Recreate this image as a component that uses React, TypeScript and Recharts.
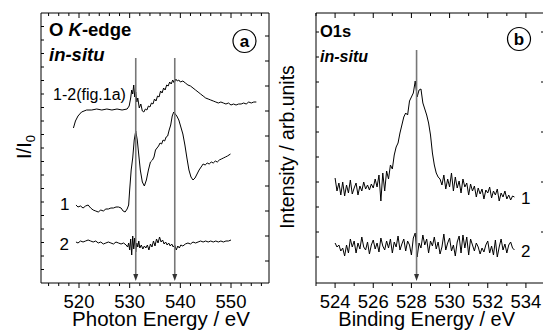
import React from 'react';
import { LineChart, Line, XAxis, YAxis, ReferenceLine, ReferenceDot } from 'recharts';

const FONT = '"Liberation Sans", Arial, Helvetica, sans-serif';

// ---------- Panel a: O K-edge (photon energy eV, intensity arb.) ----------
const okEdgeDiff: [number, number][] = [
  [518.9, 155], [519.3, 162], [519.8, 167], [520.5, 171], [521.5, 173], [522.5, 173], [523.5, 174], [524.5, 173],
  [525.5, 174], [526.5, 173], [527.5, 174], [528.5, 173], [529.5, 174], [529.9, 177], [530.2, 185], [530.4, 193],
  [530.6, 189], [530.8, 198], [531.0, 186], [531.2, 191], [531.4, 181], [531.6, 185], [531.9, 175], [532.2, 179],
  [532.5, 172], [532.8, 171], [533.1, 174], [533.4, 173], [533.7, 177], [534.0, 176], [534.3, 180], [534.6, 179],
  [534.9, 184], [535.2, 182], [535.5, 187], [535.8, 186], [536.1, 192], [536.4, 190], [536.7, 195], [537.0, 193],
  [537.3, 198], [537.6, 197], [537.9, 201], [538.2, 199], [538.5, 203], [538.8, 200], [539.1, 204], [539.4, 202],
  [539.7, 203], [540.0, 201], [540.5, 202], [541.0, 200], [541.5, 198], [542.0, 197], [542.5, 195], [543.0, 193],
  [543.5, 191], [544.0, 189], [544.5, 187], [545.0, 185], [545.5, 184], [546.0, 183], [546.5, 182], [547.0, 181],
  [547.5, 180], [548.0, 181], [548.5, 180], [549.0, 179], [549.5, 180], [550.0, 178], [550.5, 179], [551.0, 178],
  [551.5, 179], [552.0, 179], [552.5, 180], [553.0, 179], [553.5, 181], [554.0, 180], [554.5, 181], [555.0, 181],
];

const okEdge1: [number, number][] = [
  [519.4, 78], [519.8, 76], [520.3, 77], [520.8, 75], [521.3, 77], [521.8, 78], [522.3, 75], [522.8, 73],
  [523.3, 72], [523.8, 71], [524.3, 73], [524.8, 72], [525.3, 74], [525.8, 74], [526.3, 75], [526.8, 75],
  [527.3, 76], [527.8, 76], [528.3, 75], [528.7, 72], [529.1, 71], [529.5, 74], [529.8, 78], [530.0, 93],
  [530.3, 113], [530.6, 125], [530.9, 143], [531.2, 152], [531.5, 143], [531.8, 128], [532.1, 113], [532.5, 101],
  [532.9, 97], [533.3, 103], [533.7, 113], [534.1, 121], [534.5, 123], [534.8, 126], [535.1, 133], [535.4, 135],
  [535.7, 137], [536.0, 140], [536.3, 139], [536.6, 143], [536.9, 142], [537.2, 146], [537.5, 147], [537.8, 153],
  [538.1, 158], [538.4, 167], [538.7, 171], [539.0, 169], [539.3, 167], [539.7, 163], [540.1, 156], [540.5, 149],
  [540.9, 138], [541.3, 125], [541.7, 113], [542.1, 106], [542.5, 103], [542.9, 105], [543.3, 109], [543.7, 113],
  [544.1, 116], [544.5, 119], [544.9, 118], [545.3, 120], [545.7, 119], [546.1, 121], [546.5, 120], [546.9, 122],
  [547.3, 121], [547.7, 123], [548.1, 124], [548.5, 125], [548.9, 126], [549.3, 127], [549.9, 129],
];

const okEdge2: [number, number][] = [
  [519.4, 41], [519.8, 40], [520.3, 42], [520.8, 41], [521.3, 42], [521.8, 43], [522.3, 42], [522.8, 41],
  [523.3, 42], [523.8, 40], [524.3, 41], [524.8, 39], [525.3, 40], [525.8, 41], [526.3, 40], [526.8, 39],
  [527.3, 41], [527.8, 40], [528.3, 39], [528.8, 40], [529.3, 38], [529.6, 36], [529.8, 40], [530.0, 33],
  [530.2, 44], [530.4, 28], [530.6, 47], [530.8, 34], [531.0, 45], [531.2, 31], [531.4, 40], [531.6, 36],
  [531.8, 42], [532.0, 35], [532.3, 38], [532.6, 34], [532.9, 37], [533.2, 35], [533.5, 38], [533.8, 33],
  [534.1, 39], [534.4, 36], [534.7, 42], [535.0, 37], [535.3, 44], [535.6, 40], [535.9, 46], [536.2, 41],
  [536.5, 43], [536.8, 39], [537.1, 41], [537.4, 38], [537.7, 40], [538.0, 37], [538.3, 39], [538.6, 36],
  [538.9, 38], [539.2, 33], [539.5, 37], [539.8, 35], [540.1, 38], [540.5, 37], [541.0, 39], [541.5, 40],
  [542.0, 39], [542.5, 41], [543.0, 40], [543.5, 41], [544.0, 42], [544.5, 41], [545.0, 42], [545.5, 41],
  [546.0, 42], [546.5, 41], [547.0, 42], [547.5, 41], [548.0, 42], [548.5, 41], [549.0, 42], [549.5, 42], [550.0, 43],
];

const photonTicks = [514, 516, 518, 520, 522, 524, 526, 528, 530, 532, 534, 536, 538, 540, 542, 544, 546, 548, 550, 552, 554, 556];
const okLeftTicks = [13.5, 27, 40.5, 54, 67.5, 81, 94.5, 108, 121.5, 135, 148.5, 162, 175.5, 189, 202.5, 216, 229.5, 243, 256.5];
const okRightTicks = [22, 47, 72, 97, 122, 147, 172, 197, 222, 247];
const okArrows = [531.2, 538.9];

// ---------- Panel b: O1s XPS (binding energy eV) ----------
const o1s1: [number, number][] = [
  [524.0, 105], [524.1, 92], [524.2, 100], [524.3, 88], [524.4, 101], [524.5, 87], [524.6, 98], [524.7, 90], [524.8, 103], [524.9, 89],
  [525.0, 95], [525.1, 100], [525.2, 88], [525.3, 97], [525.4, 92], [525.5, 101], [525.6, 94], [525.7, 98], [525.8, 93], [525.9, 99],
  [526.0, 95], [526.1, 104], [526.2, 96], [526.3, 108], [526.4, 82], [526.5, 110], [526.6, 92], [526.7, 112], [526.8, 104], [526.9, 118],
  [527.0, 114], [527.1, 128], [527.2, 136], [527.3, 140], [527.4, 150], [527.5, 158], [527.6, 166], [527.7, 170], [527.8, 168], [527.9, 182],
  [528.0, 186], [528.1, 190], [528.2, 202], [528.3, 186], [528.4, 193], [528.5, 194], [528.6, 180], [528.7, 174], [528.8, 168], [528.9, 160],
  [529.0, 148], [529.1, 130], [529.2, 118], [529.3, 110], [529.4, 106], [529.5, 104], [529.6, 98], [529.7, 108], [529.8, 94], [529.9, 104],
  [530.0, 96], [530.1, 110], [530.2, 92], [530.3, 106], [530.4, 95], [530.5, 102], [530.6, 90], [530.7, 104], [530.8, 96], [530.9, 100],
  [531.0, 88], [531.1, 99], [531.2, 92], [531.3, 97], [531.4, 86], [531.5, 95], [531.6, 89], [531.7, 94], [531.8, 84], [531.9, 93],
  [532.0, 90], [532.1, 96], [532.2, 85], [532.3, 92], [532.4, 88], [532.5, 94], [532.6, 82], [532.7, 90], [532.8, 86], [532.9, 92],
  [533.0, 84], [533.1, 88], [533.2, 83], [533.3, 87], [533.4, 86],
];

const o1s2: [number, number][] = [
  [524.0, 40], [524.1, 36], [524.2, 38], [524.3, 32], [524.4, 35], [524.5, 27], [524.6, 38], [524.7, 30], [524.8, 44], [524.9, 36],
  [525.0, 42], [525.1, 30], [525.2, 40], [525.3, 34], [525.4, 46], [525.5, 36], [525.6, 33], [525.7, 41], [525.8, 29], [525.9, 38],
  [526.0, 43], [526.1, 34], [526.2, 40], [526.3, 31], [526.4, 45], [526.5, 37], [526.6, 33], [526.7, 42], [526.8, 35], [526.9, 44],
  [527.0, 30], [527.1, 41], [527.2, 36], [527.3, 47], [527.4, 33], [527.5, 39], [527.6, 44], [527.7, 32], [527.8, 42], [527.9, 38],
  [528.0, 28], [528.1, 45], [528.2, 50], [528.3, 26], [528.4, 40], [528.5, 35], [528.6, 48], [528.7, 38], [528.8, 44], [528.9, 30],
  [529.0, 42], [529.1, 37], [529.2, 46], [529.3, 34], [529.4, 41], [529.5, 29], [529.6, 36], [529.7, 49], [529.8, 33], [529.9, 40],
  [530.0, 45], [530.1, 32], [530.2, 38], [530.3, 27], [530.4, 41], [530.5, 47], [530.6, 30], [530.7, 48], [530.8, 35], [530.9, 46],
  [531.0, 28], [531.1, 44], [531.2, 38], [531.3, 32], [531.4, 40], [531.5, 36], [531.6, 29], [531.7, 35], [531.8, 31], [531.9, 38],
  [532.0, 42], [532.1, 30], [532.2, 37], [532.3, 28], [532.4, 43], [532.5, 26], [532.6, 36], [532.7, 44], [532.8, 33], [532.9, 39],
  [533.0, 30], [533.1, 38], [533.2, 41], [533.3, 35], [533.4, 33],
];

const bindingTicks = [523, 524, 525, 526, 527, 528, 529, 530, 531, 532, 533, 534, 535];
const o1sLeftTicks = [26, 51, 76, 101, 126, 151, 176, 201, 226, 251];
const o1sRightTicks = [51, 101, 151, 201, 251];
const o1sArrows = [528.27];

const toRows = (arr: [number, number][]) => arr.map(([e, v]) => ({ e, v }));

// ---------- tick renderers ----------
const tickTextStyle: React.CSSProperties = { fontSize: '18.5px', fontFamily: FONT, fill: '#000' };

const makeXTick = (side: 'top' | 'bottom', majorEvery: number, labels: boolean) => (props: any) => {
  const { x, y, payload } = props;
  const val = payload.value as number;
  const major = Math.abs(val % majorEvery) < 1e-6;
  const len = major ? 5 : 3;
  if (side === 'bottom') {
    return (
      <g>
        <line x1={x} y1={y} x2={x} y2={y + len} stroke="#000" strokeWidth={1} />
        {labels && major ? (
          <text x={x} y={y + 25} textAnchor="middle" style={tickTextStyle}>
            {String(val)}
          </text>
        ) : null}
      </g>
    );
  }
  return <line x1={x} y1={y} x2={x} y2={y + len} stroke="#000" strokeWidth={1} />;
};

const makeYTick = (side: 'left' | 'right', len: number) => (props: any) => {
  const { x, y } = props;
  const x2 = side === 'left' ? x + len : x - len;
  return <line x1={x} y1={y} x2={x2} y2={y} stroke="#000" strokeWidth={1} />;
};

const arrowHead = (p: any) => (
  <path d={`M${p.cx - 2.5},${p.cy - 7}L${p.cx + 2.5},${p.cy - 7}L${p.cx},${p.cy}Z`} fill="#333" />
);

const axisLine = { stroke: '#000', strokeWidth: 1 };

function Panel(props: {
  width: number;
  margin: { top: number; right: number; bottom: number; left: number };
  xDomain: [number, number];
  xTicks: number[];
  majorEvery: number;
  leftTicks: number[];
  rightTicks: number[];
  series: [number, number][][];
  arrows: number[];
  arrowTop: number;
}) {
  const { width, margin, xDomain, xTicks, majorEvery, leftTicks, rightTicks, series, arrows, arrowTop } = props;
  return (
    <LineChart width={width} height={335} margin={margin}>
      <XAxis xAxisId="b" type="number" dataKey="e" domain={xDomain} allowDataOverflow ticks={xTicks} interval={0}
        height={1} tickSize={0} tickMargin={0} tickLine={false} axisLine={axisLine}
        tick={makeXTick('bottom', majorEvery, true)} />
      <XAxis xAxisId="t" orientation="top" type="number" dataKey="e" domain={xDomain} allowDataOverflow ticks={xTicks} interval={0}
        height={1} tickSize={0} tickMargin={0} tickLine={false} axisLine={axisLine}
        tick={makeXTick('top', majorEvery, false)} />
      <YAxis yAxisId="l" type="number" domain={[0, 270]} allowDataOverflow ticks={leftTicks} interval={0}
        width={1} tickSize={0} tickMargin={0} tickLine={false} axisLine={axisLine}
        tick={makeYTick('left', 3)} />
      <YAxis yAxisId="r" orientation="right" type="number" domain={[0, 270]} allowDataOverflow ticks={rightTicks} interval={0}
        width={1} tickSize={0} tickMargin={0} tickLine={false} axisLine={axisLine}
        tick={makeYTick('right', 4)} />
      {series.map((s, i) => (
        <Line key={i} xAxisId="b" yAxisId="l" data={toRows(s)} dataKey="v" type="linear" dot={false}
          stroke="#000" strokeWidth={1} isAnimationActive={false} />
      ))}
      {arrows.map((a) => (
        <ReferenceLine key={'l' + a} xAxisId="b" yAxisId="l" segment={[{ x: a, y: arrowTop }, { x: a, y: 7 }]}
          stroke="#777" strokeWidth={1.6} ifOverflow="visible" />
      ))}
      {arrows.map((a) => (
        <ReferenceDot key={'d' + a} xAxisId="b" yAxisId="l" x={a} y={2} r={3} shape={arrowHead} ifOverflow="visible" />
      ))}
    </LineChart>
  );
}

export default function App() {
  return (
    <div style={{ position: 'absolute', left: 0, top: 0, width: 543, height: 335, overflow: 'hidden', background: '#fff', fontFamily: FONT }}>
      <div style={{ position: 'absolute', left: 0, top: 0 }}>
        <Panel width={290} margin={{ top: 12, right: 20, bottom: 51, left: 40 }} xDomain={[512.5, 557.5]}
          xTicks={photonTicks} majorEvery={10} leftTicks={okLeftTicks} rightTicks={okRightTicks}
          series={[okEdgeDiff, okEdge1, okEdge2]} arrows={okArrows} arrowTop={225} />
      </div>
      <div style={{ position: 'absolute', left: 270, top: 0 }}>
        <Panel width={290} margin={{ top: 12, right: 14, bottom: 51, left: 45 }} xDomain={[523, 535]}
          xTicks={bindingTicks} majorEvery={2} leftTicks={o1sLeftTicks} rightTicks={o1sRightTicks}
          series={[o1s1, o1s2]} arrows={o1sArrows} arrowTop={233} />
      </div>
      <svg width={543} height={335} style={{ position: 'absolute', left: 0, top: 0, pointerEvents: 'none' }} fontFamily={FONT}>
        {/* panel a texts */}
        <text x={49} y={36} fontSize={18.5} fontWeight="bold" fill="#000">
          O <tspan fontStyle="italic">K</tspan>-edge
        </text>
        <text x={49} y={61} fontSize={18.5} fontWeight="bold" fontStyle="italic" fill="#000">in-situ</text>
        <circle cx={244.5} cy={41} r={11.5} fill="none" stroke="#000" strokeWidth={1.2} />
        <text x={244.5} y={47} fontSize={17} fontWeight="bold" textAnchor="middle" fill="#000">a</text>
        <text x={53} y={100} fontSize={16} fill="#000">1-2(fig.1a)</text>
        <text x={60} y={210} fontSize={17} fill="#000">1</text>
        <text x={59.5} y={250} fontSize={17} fill="#000">2</text>
        <text transform="translate(31,147) rotate(-90)" textAnchor="middle" fontSize={20} fill="#000">
          I/I<tspan fontSize={13} dy={4}>0</tspan>
        </text>
        <text x={161} y={326} fontSize={20.5} textAnchor="middle" fill="#000">Photon Energy / eV</text>
        {/* panel b texts */}
        <text x={320} y={37} fontSize={16.5} fontWeight="bold" fill="#000">O1s</text>
        <text x={320} y={61.5} fontSize={16} fontWeight="bold" fontStyle="italic" fill="#000">in-situ</text>
        <circle cx={519} cy={39} r={11.5} fill="none" stroke="#000" strokeWidth={1.2} />
        <text x={519} y={45} fontSize={17} fontWeight="bold" textAnchor="middle" fill="#000">b</text>
        <text x={521} y={204} fontSize={17} fill="#000">1</text>
        <text x={521} y={257} fontSize={17} fill="#000">2</text>
        <text transform="translate(294,147) rotate(-90)" textAnchor="middle" fontSize={19.5} fill="#000">Intensity / arb.units</text>
        <text x={426.7} y={326} fontSize={20} textAnchor="middle" fill="#000">Binding Energy / eV</text>
      </svg>
    </div>
  );
}
